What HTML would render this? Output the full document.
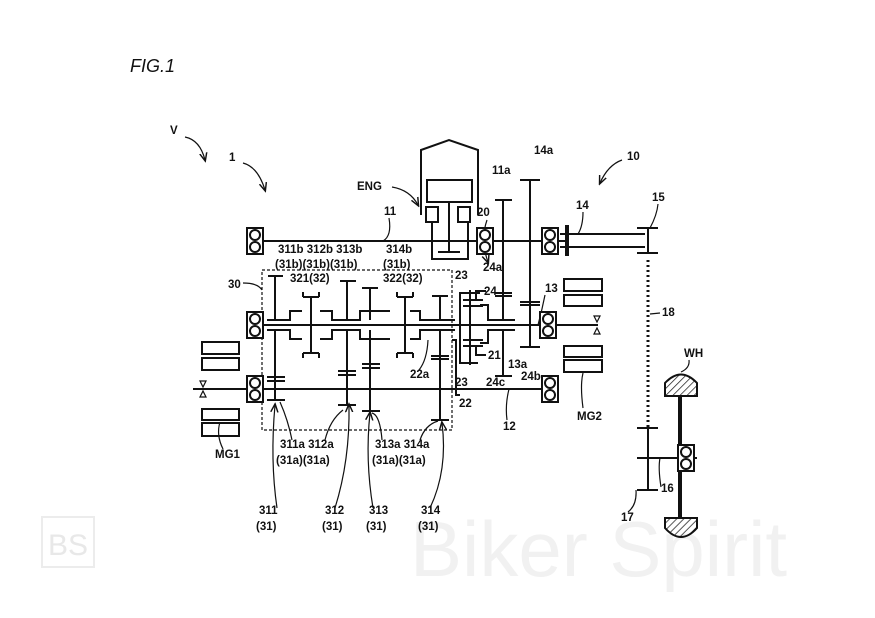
<!DOCTYPE html>
<html><head><meta charset="utf-8"><style>
html,body{margin:0;padding:0;background:#fff;}
svg{display:block;}
text{font-family:"Liberation Sans",sans-serif;fill:#111;}
</style></head><body>
<svg width="875" height="618" viewBox="0 0 875 618" xmlns="http://www.w3.org/2000/svg">
<defs>
<pattern id="h" width="5" height="5" patternUnits="userSpaceOnUse" patternTransform="rotate(45)"><line x1="0" y1="0" x2="0" y2="5" stroke="#222" stroke-width="1.5"/></pattern>
<g id="brg"><rect x="-8" y="-13" width="16" height="26" fill="#fff" stroke="#111" stroke-width="2"/><circle cx="0" cy="-6" r="5" fill="none" stroke="#111" stroke-width="2"/><circle cx="0" cy="6" r="5" fill="none" stroke="#111" stroke-width="2"/></g>
<marker id="ar" markerWidth="8" markerHeight="8" refX="6" refY="4" orient="auto"><path d="M0,1 L7,4 L0,7" fill="none" stroke="#111" stroke-width="1.2"/></marker>
</defs>
<!-- watermark -->
<text x="410" y="576" font-size="78" style="fill:#f1f1f1">Biker Spirit</text>
<rect x="42" y="517" width="52" height="50" fill="none" stroke="#ececec" stroke-width="2"/>
<text x="48" y="555" font-size="30" style="fill:#e8e8e8">BS</text>

<text x="130" y="72" font-size="18" font-style="italic">FIG.1</text>
<g font-size="11.5" font-weight="bold">
<text x="170" y="134">V</text><text x="229" y="161">1</text>
<text x="357" y="190">ENG</text><text x="384" y="215">11</text><text x="477" y="216">20</text>
<text x="492" y="174">11a</text><text x="534" y="154">14a</text><text x="627" y="160">10</text>
<text x="576" y="209">14</text><text x="652" y="201">15</text><text x="545" y="292">13</text>
<text x="662" y="316">18</text><text x="684" y="357">WH</text><text x="661" y="492">16</text>
<text x="621" y="521">17</text><text x="577" y="420">MG2</text><text x="503" y="430">12</text>
<text x="215" y="458">MG1</text><text x="228" y="288">30</text>
<text x="278" y="253">311b 312b 313b</text><text x="386" y="253">314b</text>
<text x="275" y="268">(31b)(31b)(31b)</text><text x="383" y="268">(31b)</text>
<text x="290" y="282">321(32)</text><text x="383" y="282">322(32)</text>
<text x="455" y="279">23</text><text x="483" y="271">24a</text><text x="484" y="295">24</text>
<text x="488" y="359">21</text><text x="508" y="368">13a</text><text x="455" y="386">23</text>
<text x="486" y="386">24c</text><text x="521" y="380">24b</text><text x="410" y="378">22a</text>
<text x="459" y="407">22</text>
<text x="280" y="448">311a 312a</text><text x="276" y="464">(31a)(31a)</text>
<text x="375" y="448">313a 314a</text><text x="372" y="464">(31a)(31a)</text>
<text x="259" y="514">311</text><text x="256" y="530">(31)</text>
<text x="325" y="514">312</text><text x="322" y="530">(31)</text>
<text x="369" y="514">313</text><text x="366" y="530">(31)</text>
<text x="421" y="514">314</text><text x="418" y="530">(31)</text>
</g>
<g fill="none" stroke="#111" stroke-width="1.2">
<path d="M185,137 Q200,140 205,160" marker-end="url(#ar)"/>
<path d="M243,163 Q258,167 265,190" marker-end="url(#ar)"/>
<path d="M392,187 Q410,190 418,205" marker-end="url(#ar)"/>
<path d="M622,160 Q608,165 600,183" marker-end="url(#ar)"/>
<path d="M487,220 Q480,240 488,262" marker-end="url(#ar)"/>
<path d="M389,218 Q392,236 383,241"/>
<path d="M583,212 Q583,226 578,234"/>
<path d="M658,204 Q657,215 650,228"/>
<path d="M545,295 Q542,310 538,325"/>
<path d="M660,313 L650,314"/>
<path d="M689,360 Q690,368 681,372"/>
<path d="M661,487 Q658,468 660,458"/>
<path d="M628,512 Q637,505 636,490"/>
<path d="M583,408 Q580,385 583,373"/>
<path d="M507,420 Q505,405 509,389"/>
<path d="M223,449 Q216,435 220,422"/>
<path d="M243,283 Q258,283 262,290"/>
<path d="M277,508 Q270,460 275,405" marker-end="url(#ar)"/>
<path d="M335,508 Q350,460 349,405" marker-end="url(#ar)"/>
<path d="M373,508 Q365,460 370,413" marker-end="url(#ar)"/>
<path d="M430,508 Q448,470 442,423" marker-end="url(#ar)"/>
<path d="M292,440 Q288,420 280,402"/>
<path d="M325,440 Q330,420 343,410"/>
<path d="M382,440 Q380,415 372,413"/>
<path d="M420,440 Q425,425 438,421"/>
<path d="M419,370 Q427,360 428,340"/>
</g>
<!-- shafts -->
<g stroke="#111" stroke-width="2" fill="none">
<line x1="250" y1="241" x2="565" y2="241"/>
<line x1="560" y1="234" x2="645" y2="234"/><line x1="560" y1="247" x2="645" y2="247"/>
<line x1="567" y1="225" x2="567" y2="256" stroke-width="4"/>
<line x1="250" y1="325" x2="598" y2="325"/>
<line x1="193" y1="389" x2="555" y2="389"/>
<rect x="262" y="270" width="190" height="160" stroke-dasharray="3,2" stroke-width="1.2"/>
<!-- engine -->
<path d="M421,215 L421,150 L449,140 L478,150 L478,215"/>
<rect x="427" y="180" width="45" height="22"/>
<rect x="426" y="207" width="12" height="15"/><rect x="458" y="207" width="12" height="15"/>
<path d="M432,222 L432,259 L468,259 L468,222"/>
<line x1="449" y1="202" x2="449" y2="252"/><line x1="438" y1="252" x2="460" y2="252"/>
<!-- MG1 -->
<rect x="202" y="342" width="37" height="12"/><rect x="202" y="358" width="37" height="12"/>
<rect x="202" y="409" width="37" height="11"/><rect x="202" y="423" width="37" height="13"/>
<path d="M200,381 L206,381 L203,387 Z M200,397 L206,397 L203,391 Z" stroke-width="1.2"/>
<!-- MG2 -->
<rect x="564" y="279" width="38" height="12"/><rect x="564" y="295" width="38" height="11"/>
<rect x="564" y="346" width="38" height="11"/><rect x="564" y="360" width="38" height="12"/>
<path d="M594,316 L600,316 L597,322 Z M594,334 L600,334 L597,328 Z" stroke-width="1.2"/>
<!-- sleeve shafts in box -->
<path d="M267,320 L290,320 L290,311 L302,311"/><path d="M320,311 L332,311 L332,320 L360,320 L360,311 L390,311"/>
<path d="M410,311 L420,311 L420,320 L455,320"/>
<path d="M267,330 L290,330 L290,339 L302,339"/><path d="M320,339 L332,339 L332,330 L360,330 L360,339 L390,339"/>
<path d="M410,339 L420,339 L420,330 L455,330"/>
<!-- gears 31b -->
<line x1="275" y1="276" x2="275" y2="320"/><line x1="268" y1="276" x2="283" y2="276"/>
<line x1="347" y1="281" x2="347" y2="320"/><line x1="340" y1="281" x2="356" y2="281"/>
<line x1="370" y1="288" x2="370" y2="320"/><line x1="362" y1="288" x2="378" y2="288"/>
<line x1="440" y1="296" x2="440" y2="320"/><line x1="432" y1="296" x2="448" y2="296"/>
<!-- sleeves 32 -->
<line x1="311" y1="297" x2="311" y2="353"/><line x1="303" y1="297" x2="319" y2="297"/>
<path d="M303,292 L303,297 M319,292 L319,297 M303,353 L319,353 M303,353 L303,358 M319,353 L319,358"/>
<line x1="405" y1="297" x2="405" y2="353"/><line x1="397" y1="297" x2="413" y2="297"/>
<path d="M397,292 L397,297 M413,292 L413,297 M397,353 L413,353 M397,353 L397,358 M413,353 L413,358"/>
<!-- gears 31a -->
<line x1="275" y1="330" x2="275" y2="400"/><line x1="267" y1="377" x2="285" y2="377"/><line x1="267" y1="381" x2="285" y2="381"/><line x1="267" y1="400" x2="285" y2="400"/>
<line x1="347" y1="330" x2="347" y2="405"/><line x1="338" y1="371" x2="356" y2="371"/><line x1="338" y1="375" x2="356" y2="375"/><line x1="338" y1="405" x2="356" y2="405"/>
<line x1="370" y1="330" x2="370" y2="411"/><line x1="362" y1="364" x2="380" y2="364"/><line x1="362" y1="368" x2="380" y2="368"/><line x1="362" y1="411" x2="380" y2="411"/>
<line x1="440" y1="330" x2="440" y2="420"/><line x1="431" y1="356" x2="449" y2="356"/><line x1="431" y1="359" x2="449" y2="359"/><line x1="431" y1="420" x2="449" y2="420"/>
<!-- planetary 20 -->
<path d="M460,341 L460,293 L480,293"/><path d="M460,341 L460,363 L478,363"/>
<line x1="470" y1="290" x2="470" y2="365"/>
<line x1="463" y1="300" x2="483" y2="300"/><line x1="463" y1="306" x2="483" y2="306"/>
<line x1="463" y1="340" x2="483" y2="340"/><line x1="463" y1="346" x2="483" y2="346"/>
<path d="M476,300 L476,291 L486,291 M476,346 L476,355 L486,355"/>
<path d="M480,305 L488,305 L488,320 L515,320"/><path d="M480,343 L488,343 L488,330 L515,330"/>
<path d="M452,340 L456,340 L456,395 L460,395"/>
<!-- 11a, 14a, 13a, 24c -->
<line x1="503" y1="200" x2="503" y2="320"/><line x1="495" y1="200" x2="512" y2="200"/>
<line x1="495" y1="293" x2="512" y2="293"/><line x1="495" y1="296" x2="512" y2="296"/>
<line x1="530" y1="180" x2="530" y2="347"/><line x1="520" y1="180" x2="540" y2="180"/>
<line x1="520" y1="302" x2="540" y2="302"/><line x1="520" y1="305" x2="540" y2="305"/>
<line x1="520" y1="347" x2="540" y2="347"/>
<line x1="503" y1="330" x2="503" y2="376"/><line x1="495" y1="376" x2="512" y2="376"/>
<!-- right side -->
<line x1="648" y1="228" x2="648" y2="253"/><line x1="637" y1="228" x2="658" y2="228"/><line x1="637" y1="253" x2="658" y2="253"/>
<line x1="648" y1="260" x2="648" y2="428" stroke-dasharray="2,3" stroke-width="3"/>
<line x1="648" y1="428" x2="648" y2="490"/><line x1="637" y1="428" x2="658" y2="428"/><line x1="637" y1="490" x2="658" y2="490"/>
<line x1="637" y1="458" x2="697" y2="458"/>
<line x1="680" y1="395" x2="680" y2="518" stroke-width="4"/>
<path d="M665,396 L665,383 Q681,366 697,383 L697,396 Z" fill="url(#h)"/>
<path d="M665,518 L697,518 L697,528 Q681,546 665,528 Z" fill="url(#h)"/>
</g>
<use href="#brg" x="255" y="241"/><use href="#brg" x="485" y="241"/><use href="#brg" x="550" y="241"/>
<use href="#brg" x="255" y="325"/><use href="#brg" x="548" y="325"/>
<use href="#brg" x="255" y="389"/><use href="#brg" x="550" y="389"/>
<use href="#brg" x="686" y="458"/>
</svg>
</body></html>
